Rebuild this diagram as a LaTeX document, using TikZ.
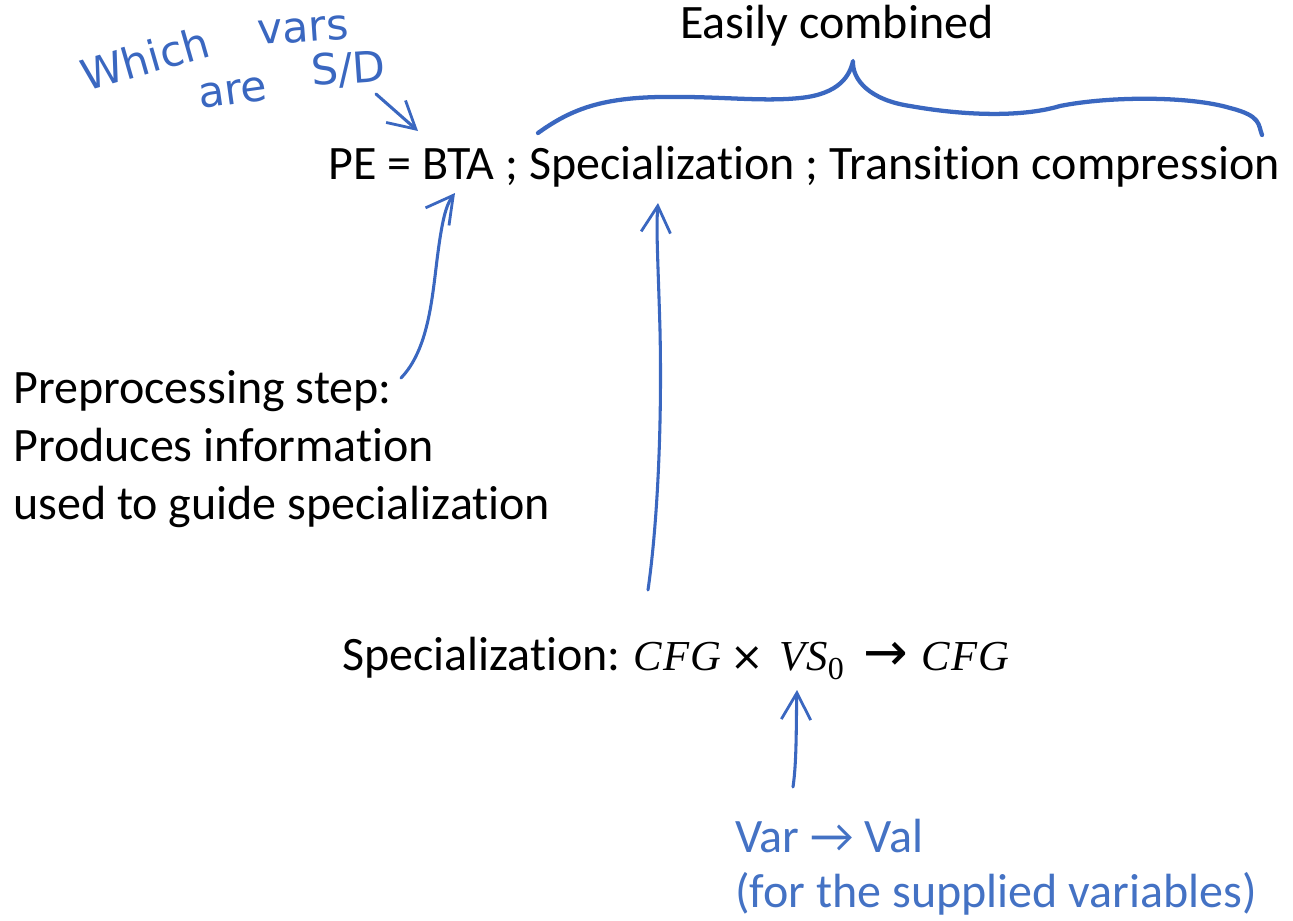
\documentclass[tikz,border=0pt]{standalone}
\usepackage{fontspec}
\setmainfont[Ligatures=NoCommon]{Carlito}
\newfontfamily\handfont{DejaVu Sans}
\newfontfamily\symfont{DejaVu Sans}
\newfontfamily\mfont{Liberation Serif}
\usetikzlibrary{arrows.meta}
\definecolor{ink}{HTML}{3A67C0}
\definecolor{txtblue}{HTML}{4472C4}
\newcommand{\mv}[1]{{\mfont\itshape\fontsize{32}{36}\selectfont #1}}
\begin{document}
\begin{tikzpicture}[x=0.75pt,y=-0.75pt,
  txt/.style={inner sep=0pt, anchor=base west, font=\fontsize{36}{42}\selectfont},
  hand/.style={inner sep=0pt, anchor=base west, text=ink, font=\handfont\fontsize{32}{34}\selectfont},
  pen/.style={draw=ink, line width=2.3pt, line cap=round, line join=round},
  penarrow/.style={pen, -{Straight Barb[length=20pt,width=22pt,line width=2.1pt]}}]
\useasboundingbox (0,0) rectangle (1293,921);

\node[txt] (main) at (328,179) {PE = BTA ; Specialization ; Transition compression};
\node[txt] (easy) at (680,38) {Easily combined};
\node[txt] (pre1) at (13,403) {Preprocessing step:};
\node[txt] (pre2) at (13,461) {Produces information};
\node[txt] (pre3) at (13,519) {used to guide specialization};
\node[txt] (spec) at (342,670) {\makebox[221.25pt][l]{Specialization:}%
\makebox[60.75pt][c]{\mv{C\kern1pt F\kern1pt G}}%
\makebox[42.75pt][c]{\symfont\fontsize{30}{36}\selectfont ×}%
\makebox[62.25pt][l]{\hspace{3pt}\mv{V\kern1pt S}\raisebox{-7pt}{\mfont\fontsize{24}{26}\selectfont 0}}%
\makebox[42pt][c]{\symfont\fontsize{40}{42}\selectfont →}%
\makebox[76.5pt][c]{\mv{C\kern1pt F\kern1pt G}}};
\node[txt, text=txtblue] (vv1) at (735,852) {Var → Val};
\node[txt, text=txtblue] (vv2) at (735,907) {(for the supplied variables)};

\node[hand, rotate=16] (which) at (86,92) {Which};
\node[hand, rotate=4] (vars) at (258,45) {vars};
\node[hand, rotate=8] (are) at (200,109) {are};
\node[hand, rotate=4] (sd) at (312,86) {S/D};

\coordinate (a1s) at (376,94);
\coordinate (a1e) at (418,131);
\draw[penarrow] (a1s) -- (a1e);

\coordinate (a2s) at (401,378);
\coordinate (a2e) at (455,193);
\draw[penarrow] (a2s) .. controls (428,350) and (432,300) .. (437,260) .. controls (442,220) and (446,205) .. (a2e);

\coordinate (a3s) at (648,590);
\coordinate (a3e) at (658,203);
\draw[penarrow] (a3s) .. controls (658,520) and (662,420) .. (660,330) .. controls (658,260) and (656,230) .. (a3e);

\coordinate (a4s) at (793,787);
\coordinate (a4e) at (797,690);
\draw[penarrow] (a4s) .. controls (797,760) and (796,720) .. (a4e);

\coordinate (b0) at (538,133);
\coordinate (bt) at (853,61);
\coordinate (b1) at (1262,135);
\draw[pen, line width=3.2pt] (b0) .. controls (570,110) and (600,98) .. (660,97)
  .. controls (720,96) and (760,102) .. (800,98)
  .. controls (840,94) and (850,75) .. (bt)
  .. controls (852,80) and (870,100) .. (910,106)
  .. controls (960,115) and (1020,118) .. (1060,106)
  .. controls (1110,96) and (1190,96) .. (1230,108)
  .. controls (1262,116) and (1258,125) .. (b1);
\end{tikzpicture}
\end{document}
